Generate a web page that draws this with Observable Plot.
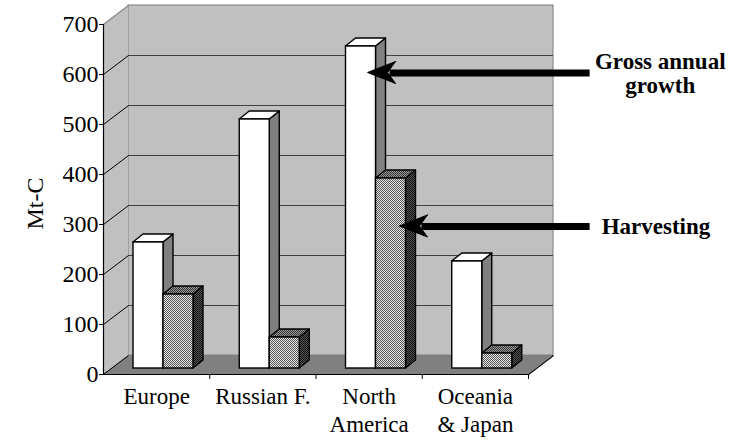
<!DOCTYPE html>
<html><head><meta charset="utf-8">
<script src="https://cdn.jsdelivr.net/npm/d3@7"></script>
<script src="https://cdn.jsdelivr.net/npm/@observablehq/plot@0.6"></script>
<style>body{margin:0;background:#fff}</style>
</head><body><div id="chart"></div>
<script>
// ---- data ----
const categories = ["Europe", "Russian F.", "North\nAmerica", "Oceania\n& Japan"];
const grossGrowth = [252, 498, 644, 214];
const harvesting = [148, 62, 380, 30];
const yTicks = [0, 100, 200, 300, 400, 500, 600, 700];
const arrowNotes = [
  {label: "Gross annual\ngrowth", y: 603, tip: 2.49, tail: 4.58, lx: 5.24},
  {label: "Harvesting", y: 296, tip: 2.79, tail: 4.58, lx: 5.20}
];
const yTitle = "Mt-C";

// ---- layout ----
const W = 733, H = 442, mL = 103, mR = 205, mT = 24, mB = 68;
const pxX = (W - mL - mR) / categories.length;
const pxY = (H - mT - mB) / 700;
const px = v => v / pxX, py = v => v / pxY;
const backDX = px(25), backDY = py(19);
const frontDX = px(8), frontDY = py(6);
const depthDX = px(10), depthDY = py(8);
const gap = px(22), barW = px(30);
const N = categories.length;

const series = [grossGrowth, harvesting];
const bars = [];
series.forEach((vals, s) => vals.forEach((v, i) => {
  const x1 = i + gap + frontDX + s * barW;
  bars.push({id: `${s}-${i}`, s, x1, x2: x1 + barW, y0: frontDY, y1: v + frontDY});
}));
const tops = s => bars.filter(b => b.s === s).flatMap(b => [
  {id: b.id, y: b.y1, x1: b.x1, x2: b.x2},
  {id: b.id, y: b.y1 + depthDY, x1: b.x1 + depthDX, x2: b.x2 + depthDX}
]);
const sides = s => bars.filter(b => b.s === s).flatMap(b => [
  {id: b.id, x: b.x2, y1: b.y0, y2: b.y1},
  {id: b.id, x: b.x2 + depthDX, y1: b.y0 + depthDY, y2: b.y1 + depthDY}
]);
const fronts = s => bars.filter(b => b.s === s);

function defs() {
  const d = d3.create("svg:defs");
  const mk = (id, bg, fg) => {
    const p = d.append("pattern").attr("id", id).attr("width", 2).attr("height", 2).attr("patternUnits", "userSpaceOnUse");
    p.append("rect").attr("width", 2).attr("height", 2).attr("fill", bg);
    p.append("rect").attr("x", 0).attr("y", 0).attr("width", 1).attr("height", 1).attr("fill", fg);
    p.append("rect").attr("x", 1).attr("y", 1).attr("width", 1).attr("height", 1).attr("fill", fg);
  };
  mk("dotFront", "#e8e8e8", "#555");
  mk("dotTop", "#999", "#333");
  mk("dotSide", "#555", "#111");
  return d.node();
}

const font = "Liberation Serif, Times New Roman, serif";
const stroke = {stroke: "black", strokeWidth: 1.4};

const chart = Plot.plot({
  width: W, height: H,
  marginLeft: mL, marginRight: mR, marginTop: mT, marginBottom: mB,
  x: {domain: [0, N]},
  y: {domain: [0, 700]},
  style: {fontFamily: font, background: "white", color: "black", overflow: "visible"},
  marks: [
    defs,
    // back wall
    Plot.rect([0], {x1: backDX, x2: N + backDX, y1: backDY, y2: 700 + backDY, fill: "#c0c0c0", stroke: "#8a8a8a", strokeWidth: 1.2}),
    // side wall
    Plot.areaY([{x: 0, y1: 0, y2: 700}, {x: backDX, y1: backDY, y2: 700 + backDY}], {x: "x", y1: "y1", y2: "y2", fill: "#c0c0c0"}),
    Plot.link([700], {x1: 0, y1: d => d, x2: backDX, y2: d => d + backDY, stroke: "#8a8a8a", strokeWidth: 1.2}),
    // floor
    Plot.areaX([{y: 0, x1: 0, x2: N}, {y: backDY, x1: backDX, x2: N + backDX}], {y: "y", x1: "x1", x2: "x2", fill: "#808080"}),
    // gridlines on back wall
    Plot.ruleY(yTicks.filter(t => t > 0 && t < 700), {y: d => d + backDY, x1: backDX, x2: N + backDX, stroke: "#404040", strokeWidth: 1}),
    // gridlines on side wall
    Plot.link(yTicks.filter(t => t < 700), {x1: 0, y1: d => d, x2: backDX, y2: d => d + backDY, stroke: "black", strokeWidth: 1}),
    // front edges
    Plot.link([N], {x1: d => d, y1: 0, x2: d => d + backDX, y2: backDY, stroke: "black", strokeWidth: 1.2}),
    Plot.ruleX([0], {y1: 0, y2: 700, stroke: "black", strokeWidth: 1.2}),
    Plot.ruleY([0], {x1: 0, x2: N, stroke: "black", strokeWidth: 1.2}),
    // bars: gross growth (white)
    Plot.areaY(sides(0), {x: "x", y1: "y1", y2: "y2", z: "id", fill: "#808080", ...stroke}),
    Plot.areaX(tops(0), {y: "y", x1: "x1", x2: "x2", z: "id", fill: "white", ...stroke}),
    Plot.rect(fronts(0), {x1: "x1", x2: "x2", y1: "y0", y2: "y1", fill: "white", ...stroke}),
    // bars: harvesting (stippled)
    Plot.areaY(sides(1), {x: "x", y1: "y1", y2: "y2", z: "id", fill: "url(#dotSide)", ...stroke}),
    Plot.areaX(tops(1), {y: "y", x1: "x1", x2: "x2", z: "id", fill: "url(#dotTop)", ...stroke}),
    Plot.rect(fronts(1), {x1: "x1", x2: "x2", y1: "y0", y2: "y1", fill: "url(#dotFront)", ...stroke}),
    // axes
    Plot.axisY({ticks: yTicks, tickSize: 4, tickPadding: 1, fontSize: 24, fontFamily: font, label: null}),
    Plot.axisX({ticks: [1, 2, 3, 4], tickSize: 5, tickFormat: () => "", label: null}),
    Plot.text(categories, {x: (d, i) => i + 0.5, y: 0, dy: 10, text: d => d, lineAnchor: "top", fontSize: 23, fontFamily: font, lineHeight: 1.2}),
    Plot.text([yTitle], {x: px(35 - mL), y: 700 - py(203 - mT), text: d => d, rotate: -90, fontSize: 24, fontFamily: font}),
    // arrows
    Plot.ruleY(arrowNotes, {y: "y", x1: d => d.tip + px(22), x2: "tail", stroke: "black", strokeWidth: 7}),
    Plot.areaX(arrowNotes.flatMap((d, k) => [
      {k, y: d.y + py(11), x1: d.tip + px(28), x2: d.tip + px(28)},
      {k, y: d.y, x1: d.tip, x2: d.tip + px(20)},
      {k, y: d.y - py(11), x1: d.tip + px(28), x2: d.tip + px(28)}
    ]), {y: "y", x1: "x1", x2: "x2", z: "k", fill: "black", stroke: "black", strokeWidth: 1}),
    Plot.text(arrowNotes, {x: "lx", y: "y", text: "label", fontWeight: "bold", fontSize: 23, fontFamily: font, lineHeight: 1.08})
  ]
});
document.getElementById("chart").appendChild(chart);
</script>
</body></html>
